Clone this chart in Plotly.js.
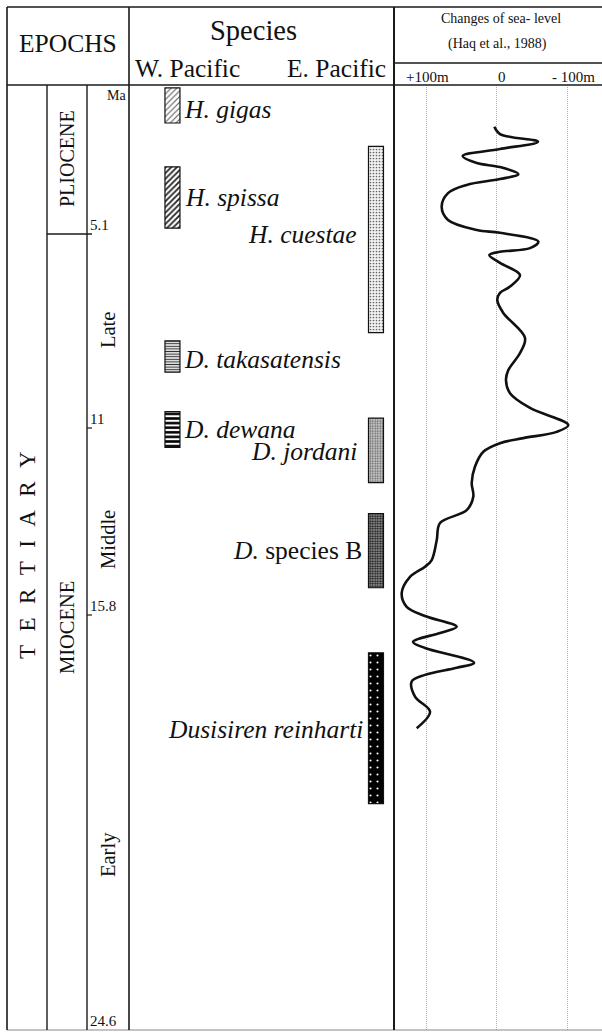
<!DOCTYPE html>
<html><head><meta charset="utf-8">
<script src="https://cdn.plot.ly/plotly-3.0.1.min.js"></script>
<style>html,body{margin:0;padding:0;background:#fff}#chart{width:602px;height:1032px}</style>
</head><body><div id="chart"></div>
<script>
// ---------------- DATA ----------------
const epochBoundaryMa = [0, 5.1, 11, 15.8, 24.6];
const boundaryTickLabels = ['5.1', '11', '15.8', '24.6'];
const boundaryTickMa = [5.1, 11, 15.8, 24.6];
const epochNames = ['PLIOCENE', 'MIOCENE'];
const subEpochNames = ['Late', 'Middle', 'Early'];
const periodName = 'TERTIARY';

const speciesNames = ['H. gigas', 'H. spissa', 'H. cuestae', 'D. takasatensis',
                      'D. dewana', 'D. jordani', 'D. species B', 'Dusisiren reinharti'];
const speciesLabels = ['<i>H. gigas</i>', '<i>H. spissa</i>', '<i>H. cuestae</i>', '<i>D. takasatensis</i>',
                       '<i>D. dewana</i>', '<i>D. jordani</i>', '<i>D.</i> species B', '<i>Dusisiren reinharti</i>'];
const speciesRegion = ['W', 'W', 'E', 'W', 'W', 'E', 'E', 'E'];
const speciesStartMa = [0.1, 2.8, 2.1, 8.35, 10.5, 10.7, 13.2, 16.6];
const speciesEndMa   = [1.3, 4.9, 8.1, 9.3, 11.5, 12.4, 15.1, 19.8];

const seaLevelMa = [1.43, 1.68, 1.94, 2.19, 2.43, 2.67, 2.81, 3.05, 3.22, 3.42, 3.70, 4.17, 4.62, 4.96,
  5.06, 5.33, 5.53, 5.64, 5.74, 5.98, 6.35, 6.70, 6.89, 7.11, 7.50, 8.26, 8.72, 9.24, 9.54, 9.94,
  10.39, 10.91, 11.10, 11.26, 11.39, 11.61, 11.99, 12.41, 12.76, 13.11, 13.44, 13.88, 14.39, 14.56,
  14.82, 15.24, 15.59, 15.82, 16.05, 16.18, 16.37, 16.50, 16.81, 16.92, 17.07, 17.21, 17.53, 17.85, 18.20];
const seaLevelM = [3.5, -4.5, -58.4, -4.5, 48.4, 28.5, -4.5, -30.5, -4.5, 42.7, 69.2, 78.2, 69.2, 28.5,
  -4.5, -58.9, -47.1, -4.5, 10.6, -4.5, -32.9, -18.7, -4.5, -0.7, -9.2, -40.0, -32.9, -16.3, -13.0, -18.7,
  -47.1, -101.4, -84.9, -37.6, -4.5, 19.1, 30.9, 35.6, 33.3, 42.7, 80.5, 85.2, 92.3, 101.8,
  123.1, 134.9, 127.8, 101.8, 56.9, 80.5, 118.8, 101.8, 32.3, 56.9, 101.8, 120.7, 116.0, 94.7, 113.6];
const seaLevelTickVals = [100, 0, -100];
const seaLevelTickText = ['+100m', '0', '- 100m'];

// ---------------- LAYOUT CONFIG ----------------
const W = 602, H = 1032;
const TOP = 7, HEAD = 85, BOT = 1030, LEFT = 7;
const X_TERT = 47, X_EPOCH = 87, X_MA = 129, X_SPEC = 394, RIGHT = 602;
const SEA_HEAD_DIV = 63;
// schematic vertical positions (px below header) of the epoch boundaries
const boundaryPos = [0, 149, 343, 530, 945];
const FONT = 'Liberation Serif, Times New Roman, serif';
const LINE = '#1a1a1a';

function pos(ma) {
  for (let i = 0; i < epochBoundaryMa.length - 1; i++) {
    const a = epochBoundaryMa[i], b = epochBoundaryMa[i + 1];
    if (ma <= b || i === epochBoundaryMa.length - 2) {
      return boundaryPos[i] + (ma - a) / (b - a) * (boundaryPos[i + 1] - boundaryPos[i]);
    }
  }
}
const px = x => x / W;
const py = y => 1 - y / H;

// species column x-axis: 0..1 across px 129..394
const regionX = { W: 0.164, E: 0.932 };
const barWidth = 0.0566;
const barStyles = [
  { bg: '#ffffff', fg: '#555555', shape: '/', size: 4, solidity: 0.25 },
  { bg: '#ffffff', fg: '#222222', shape: '/', size: 4, solidity: 0.45 },
  { bg: '#f2f2f2', fg: '#666666', shape: '.', size: 3, solidity: 0.25 },
  { bg: '#ffffff', fg: '#333333', shape: '-', size: 2.6, solidity: 0.45 },
  { bg: '#ffffff', fg: '#000000', shape: '-', size: 4.6, solidity: 0.55 },
  { bg: '#d4d4d4', fg: '#666666', shape: '.', size: 2.5, solidity: 0.45 },
  { bg: '#b0b0b0', fg: '#1a1a1a', shape: '.', size: 2.5, solidity: 0.6 },
  { bg: '#000000', fg: '#ffffff', shape: '.', size: 7, solidity: 0.07 }
];
// label placement: [x px, y px, anchor]
const labelPlace = [
  [183, 110, 'left'], [184, 197, 'left'], [358, 235, 'right'], [183, 360, 'left'],
  [183, 429, 'left'], [358, 451, 'right'], [363, 550, 'right'], [364, 729, 'right']
];
const seaTickShift = [1, 5, 6];

// ---------------- TRACES ----------------
const traces = speciesNames.map((name, i) => {
  const s = barStyles[i];
  const b0 = pos(speciesStartMa[i]), b1 = pos(speciesEndMa[i]);
  return {
    type: 'bar', name: name, xaxis: 'x', yaxis: 'y',
    x: [regionX[speciesRegion[i]]], base: [b0], y: [b1 - b0], width: [barWidth],
    marker: {
      color: s.bg,
      line: { color: '#111', width: 1.2 },
      pattern: { shape: s.shape, fillmode: 'replace', bgcolor: s.bg, fgcolor: s.fg, size: s.size, solidity: s.solidity }
    },
    hoverinfo: 'name'
  };
});
traces.push({
  type: 'scatter', mode: 'lines', xaxis: 'x2', yaxis: 'y',
  x: seaLevelM, y: seaLevelMa.map(pos),
  line: { color: '#111', width: 2.6, shape: 'spline', smoothing: 1 },
  hoverinfo: 'skip'
});

// ---------------- SHAPES ----------------
function ln(x0, y0, x1, y1, w, c) {
  return { type: 'line', xref: 'paper', yref: 'paper', x0: px(x0), y0: py(y0), x1: px(x1), y1: py(y1),
           line: { color: c || LINE, width: w || 1.4 } };
}
function lnY(x0, x1, ma, w) {
  return { type: 'line', xref: 'paper', yref: 'y', x0: px(x0), x1: px(x1), y0: pos(ma), y1: pos(ma),
           line: { color: LINE, width: w || 1.4 } };
}
const shapes = [
  ln(LEFT, TOP, RIGHT, TOP, 1.6),
  ln(LEFT, HEAD, RIGHT, HEAD, 1.6),
  ln(X_SPEC, SEA_HEAD_DIV, RIGHT, SEA_HEAD_DIV, 1.4),
  ln(LEFT, BOT, RIGHT, BOT, 1.2, '#888'),
  ln(LEFT, TOP, LEFT, BOT, 1.6),
  ln(X_MA, TOP, X_MA, BOT, 1.6),
  ln(X_SPEC, TOP, X_SPEC, BOT, 2),
  ln(X_TERT, HEAD, X_TERT, BOT, 1.4),
  ln(X_EPOCH, HEAD, X_EPOCH, BOT, 1.4),
  lnY(X_TERT, X_EPOCH + 5, epochBoundaryMa[1], 1.4),
  lnY(X_EPOCH, X_EPOCH + 5, epochBoundaryMa[2], 1.2),
  lnY(X_EPOCH, X_EPOCH + 5, epochBoundaryMa[3], 1.2)
];

// ---------------- ANNOTATIONS ----------------
const ann = [];
function txt(text, x, y, size, opts) {
  ann.push(Object.assign({ text: text, xref: 'paper', yref: 'paper', x: px(x), y: py(y),
    xanchor: 'center', yanchor: 'middle', showarrow: false, borderpad: 0,
    font: { family: FONT, size: size, color: '#111' } }, opts || {}));
}
txt('EPOCHS', 68, 44, 25.5);
txt('Species', 253, 30, 28.5);
txt('W. Pacific', 134, 68, 25.5, { xanchor: 'left' });
txt('E. Pacific', 387, 68, 25.5, { xanchor: 'right' });
txt('Changes of sea- level', 501, 18, 14);
txt('(Haq et al., 1988)', 497, 44, 14);
seaLevelTickVals.forEach((v, i) => {
  ann.push({ text: seaLevelTickText[i], xref: 'x2', yref: 'paper', x: v, y: py(77), xshift: seaTickShift[i],
    xanchor: 'center', yanchor: 'middle', showarrow: false, borderpad: 0,
    font: { family: FONT, size: 15, color: '#111' } });
});
txt('Ma', 116, 96, 14);
txt(periodName.split('').join('\u00a0\u00a0\u200a'), 27, 555, 23, { textangle: -90 });
txt(epochNames[0], 67, 159, 20, { textangle: -90 });
txt(epochNames[1], 67, 628, 20.5, { textangle: -90 });
const subPlace = [[108, 330], [108, 540], [108, 855]];
subEpochNames.forEach((n, i) => txt(n, subPlace[i][0], subPlace[i][1], 20.5, { textangle: -90 }));
boundaryTickMa.forEach((ma, i) => {
  ann.push({ text: boundaryTickLabels[i], xref: 'paper', yref: 'y', x: px(X_EPOCH + 2), y: pos(ma),
    xanchor: 'left', yanchor: 'bottom', showarrow: false, borderpad: 0,
    font: { family: FONT, size: 15, color: '#111' } });
});
speciesLabels.forEach((t, i) => {
  const p = labelPlace[i];
  txt(t, p[0], p[1], 25.5, { xanchor: p[2] });
});

// ---------------- LAYOUT ----------------
const layout = {
  width: W, height: H, margin: { l: 0, r: 0, t: 0, b: 0, pad: 0 },
  paper_bgcolor: '#fff', plot_bgcolor: 'rgba(0,0,0,0)', showlegend: false, barmode: 'overlay',
  font: { family: FONT, color: '#111' },
  xaxis: { domain: [px(X_MA), px(X_SPEC)], range: [0, 1], visible: false, fixedrange: true },
  xaxis2: { domain: [px(X_SPEC), 1], range: [145.8, -149.2], anchor: 'y', side: 'top',
    tickvals: seaLevelTickVals, showticklabels: false, ticks: '', showline: false, zeroline: false,
    showgrid: true, gridcolor: '#b0b0b0', griddash: '1px,1px', gridwidth: 1, fixedrange: true },
  yaxis: { domain: [py(BOT), py(HEAD)], range: [945, 0], visible: false, fixedrange: true },
  shapes: shapes, annotations: ann
};

Plotly.newPlot('chart', traces, layout, { displayModeBar: false, staticPlot: true });
</script></body></html>
